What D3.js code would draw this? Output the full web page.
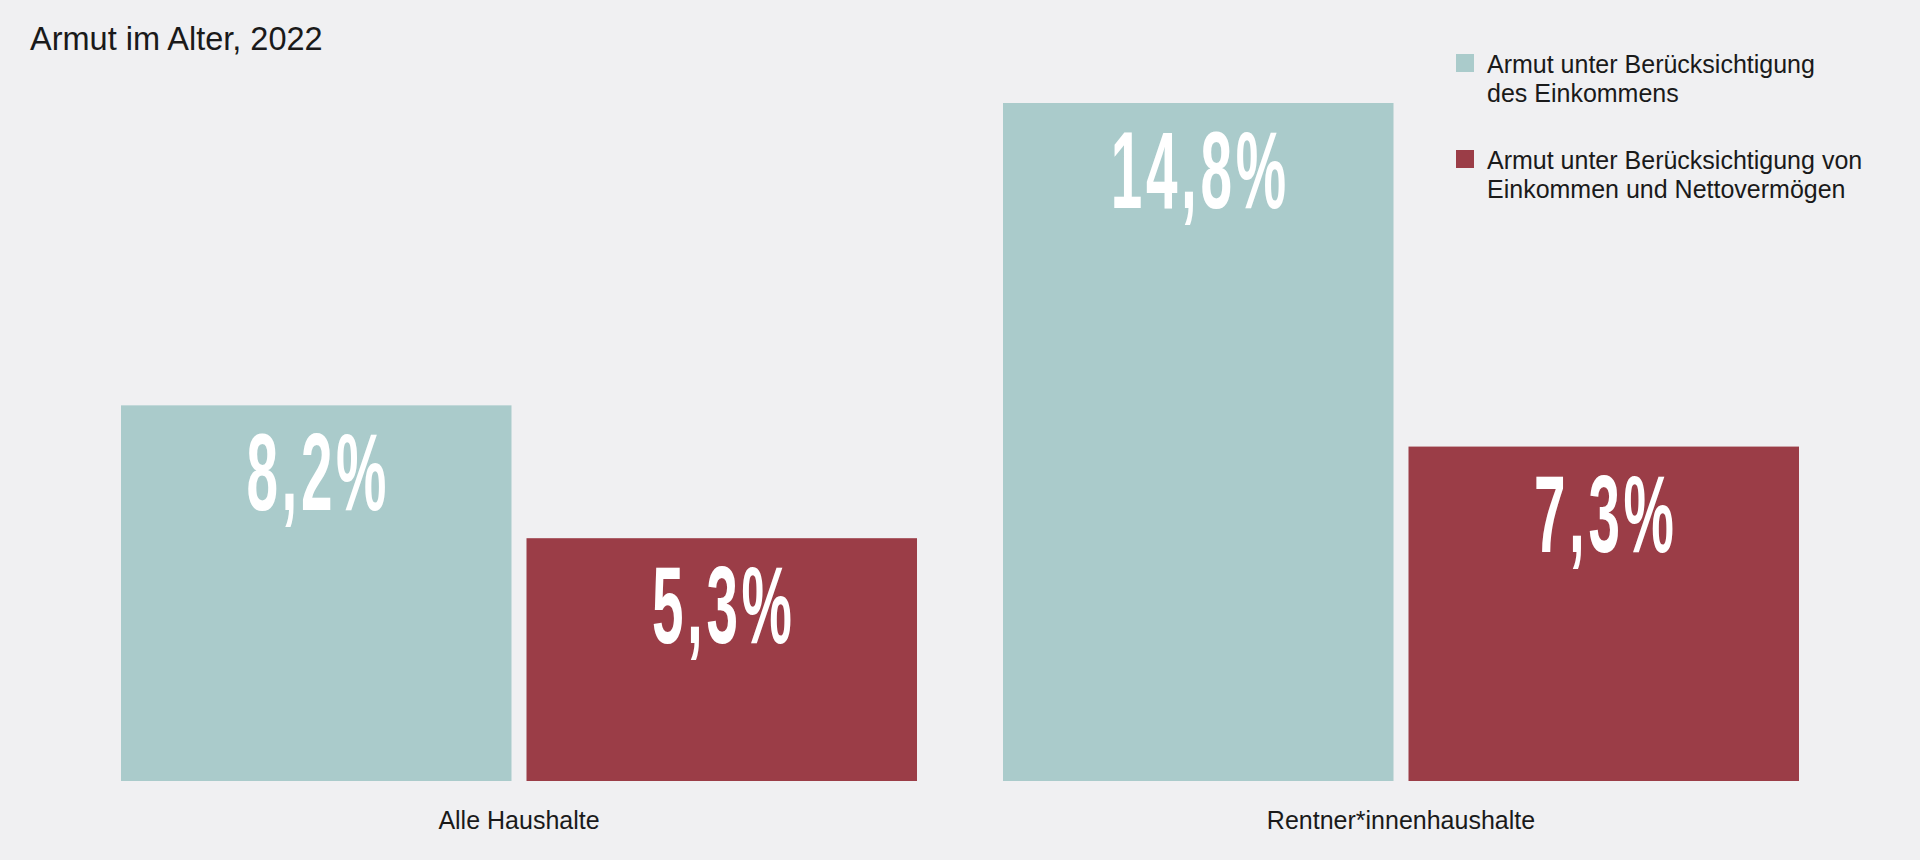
<!DOCTYPE html>
<html>
<head>
<meta charset="utf-8">
<script src="https://cdn.jsdelivr.net/npm/d3@7"></script>
<style>
  html, body { margin: 0; padding: 0; background: #f0f0f2; }
  svg { display: block; }
</style>
</head>
<body>
<div id="chart"></div>
<script>
// Data
var categories = ["Alle Haushalte", "Rentner*innenhaushalte"];
var seriesNames = [
  ["Armut unter Berücksichtigung", "des Einkommens"],
  ["Armut unter Berücksichtigung von", "Einkommen und Nettovermögen"]
];
var einkommen = [8.2, 14.8];
var einkommenVermoegen = [5.3, 7.3];
var colors = ["#aacbcb", "#9b3d47"];

var width = 1920, height = 860;
var margin = { top: 103, right: 121, bottom: 79, left: 121 };

var svg = d3.select("#chart").append("svg")
  .attr("width", width)
  .attr("height", height);

svg.append("rect")
  .attr("width", width)
  .attr("height", height)
  .attr("fill", "#f0f0f2");

// Title
svg.append("text")
  .attr("x", 30)
  .attr("y", 50)
  .attr("font-family", "Liberation Sans, Arial, sans-serif")
  .attr("font-size", 32.5)
  .attr("fill", "#1a1a1a")
  .text("Armut im Alter, 2022");

// Scales
var x0 = d3.scaleBand()
  .domain(categories)
  .range([margin.left, width - margin.right])
  .paddingInner(0.0975)
  .paddingOuter(0);

var x1 = d3.scaleBand()
  .domain([0, 1])
  .range([0, x0.bandwidth()])
  .paddingInner(0.037)
  .paddingOuter(0);

var y = d3.scaleLinear()
  .domain([0, 14.8])
  .range([height - margin.bottom, margin.top]);

var rows = categories.map(function (c, i) {
  return { cat: c, values: [einkommen[i], einkommenVermoegen[i]] };
});

var group = svg.append("g")
  .selectAll("g")
  .data(rows)
  .enter().append("g")
  .attr("transform", function (d) { return "translate(" + x0(d.cat) + ",0)"; });

var cell = group.selectAll("g")
  .data(function (d) { return d.values.map(function (v, k) { return { k: k, v: v }; }); })
  .enter().append("g");

cell.append("rect")
  .attr("x", function (d) { return x1(d.k); })
  .attr("y", function (d) { return y(d.v); })
  .attr("width", x1.bandwidth())
  .attr("height", function (d) { return y(0) - y(d.v); })
  .attr("fill", function (d) { return colors[d.k]; });

// Value labels, condensed white numbers inside the bar top
cell.append("text")
  .attr("transform", function (d) {
    return "translate(" + (x1(d.k) + x1.bandwidth() / 2 + 2) + "," + (y(d.v) + 105) + ") scale(0.52,1)";
  })
  .attr("text-anchor", "middle")
  .attr("font-family", "Liberation Sans Narrow, Arial Narrow, sans-serif")
  .attr("font-weight", "bold")
  .attr("font-size", 109)
  .attr("letter-spacing", 7)
  .attr("fill", "#ffffff")
  .text(function (d) { return d3.format(".1f")(d.v).replace(".", ",") + "%"; });

// Category axis labels
svg.append("g")
  .attr("transform", "translate(0," + (height - margin.bottom) + ")")
  .call(d3.axisBottom(x0).tickSize(0).tickPadding(0))
  .call(function (g) { g.select(".domain").remove(); })
  .selectAll("text")
  .attr("dy", null)
  .attr("y", 48)
  .attr("font-family", "Liberation Sans, Arial, sans-serif")
  .attr("font-size", 25)
  .attr("fill", "#1a1a1a");

// Legend
var legend = svg.append("g")
  .attr("transform", "translate(1456,54)")
  .selectAll("g")
  .data(seriesNames)
  .enter().append("g")
  .attr("transform", function (d, i) { return "translate(0," + i * 96 + ")"; });

legend.append("rect")
  .attr("width", 18)
  .attr("height", 18)
  .attr("fill", function (d, i) { return colors[i]; });

legend.append("text")
  .attr("x", 31)
  .attr("y", 19)
  .attr("font-family", "Liberation Sans, Arial, sans-serif")
  .attr("font-size", 25)
  .attr("fill", "#1a1a1a")
  .selectAll("tspan")
  .data(function (d) { return d; })
  .enter().append("tspan")
  .attr("x", 31)
  .attr("dy", function (d, j) { return j === 0 ? 0 : 29; })
  .text(function (d) { return d; });
</script>
</body>
</html>
